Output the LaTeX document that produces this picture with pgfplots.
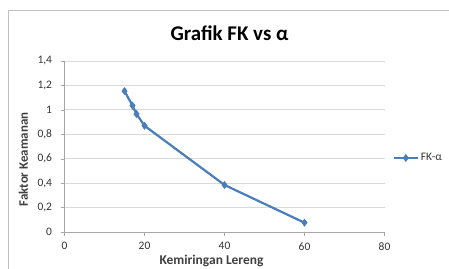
\documentclass[border=0pt]{standalone}
\usepackage{pgfplots}
\pgfplotsset{compat=1.18}
\usepackage{fontspec}
\setmainfont{Carlito}
\definecolor{serblue}{HTML}{4A7EBB}
\definecolor{gridgray}{HTML}{D9D9D9}
\definecolor{axgray}{HTML}{A6A6A6}
\begin{document}
\begin{tikzpicture}[x=1bp,y=1bp]
\path[use as bounding box] (0,0) rectangle (449,268);
\draw[axgray!70, line width=0.8bp] (8,-5) -- (8,258) -- (460,258);
\node[font=\bfseries\fontsize{21}{24}\selectfont] at (229.5,235) {Grafik FK vs α};
\begin{axis}[
  at={(64.5bp,36bp)}, anchor=south west,
  scale only axis, width=320bp, height=171bp,
  xmin=0, xmax=80, ymin=0, ymax=1.4,
  xtick={0,20,40,60,80}, ytick={0,0.2,0.4,0.6,0.8,1,1.2,1.4},
  /pgf/number format/use comma,
  /pgf/number format/assume math mode=true,
  yticklabel style={/pgf/number format/fixed, /pgf/number format/precision=1, xshift=-5bp},
  xticklabel style={yshift=-3bp},
  axis lines=left, axis line style={-, axgray},
  tick align=outside, major tick length=4bp, tick style={axgray},
  ymajorgrids, grid style={gridgray, line width=0.8bp},
  ticklabel style={font=\fontsize{11.5}{13}\selectfont, text=black!80},
  legend style={at={(1.025,0.433)}, anchor=west, draw=none, fill=none, inner sep=0pt,
    font=\fontsize{11.5}{13}\selectfont, text=black!80},
  legend image code/.code={\draw[#1, mark repeat=2, mark phase=2] plot coordinates {(0bp,0bp) (12bp,0bp) (24bp,0bp)};},
  clip=false,
]
\addplot[serblue, line width=2.2bp, mark=diamond*, mark size=3.6bp, mark options={fill=serblue, draw=serblue, line width=0.5bp}]
 coordinates {(15,1.154) (17,1.035) (18,0.966) (20,0.87) (40,0.385) (60,0.076)};
\addlegendentry{FK-α}
\end{axis}
\node[font=\bfseries\fontsize{13.5}{15}\selectfont, text=black!75, inner sep=1bp] at (211.5,7.5) {Kemiringan Lereng};
\node[font=\bfseries\fontsize{13}{15}\selectfont, text=black!75, rotate=90] at (23.5,108.5) {Faktor Keamanan};
\end{tikzpicture}
\end{document}
